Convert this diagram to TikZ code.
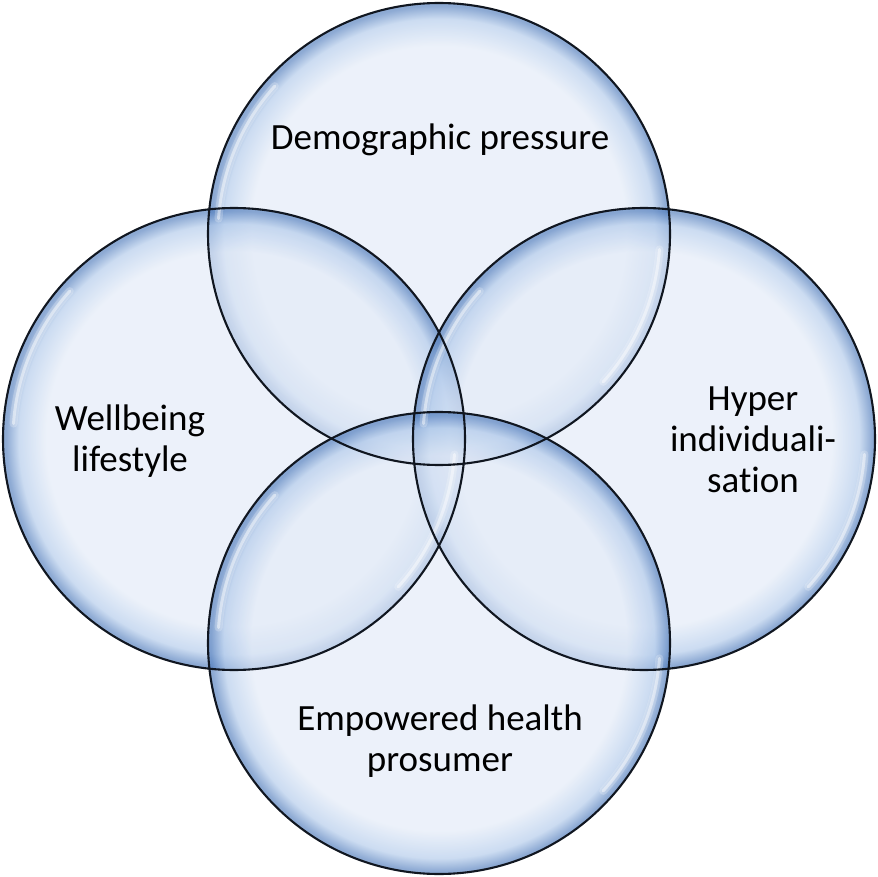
\documentclass[tikz,border=0pt]{standalone}
\usepackage{fontspec}
\setmainfont{Carlito}[Ligatures={NoCommon}]
\definecolor{bubinner}{RGB}{226,234,247}
\definecolor{bubmid}{RGB}{176,201,234}
\definecolor{bubouter}{RGB}{80,124,188}
\definecolor{bubline}{RGB}{16,22,32}
\pgfdeclareradialshading{bubble}{\pgfpoint{0bp}{0bp}}{%
  color(0bp)=(bubinner);
  color(20.3bp)=(bubinner);
  color(23.3bp)=(bubmid);
  color(24.7bp)=(bubouter);
  color(25bp)=(bubouter);
  color(50bp)=(bubouter)}
\tikzset{
  bubble/.style={circle, inner sep=0pt, minimum size=462pt, draw=none,
    shade, shading=bubble, fill opacity=0.65},
  rim/.style={draw=bubline, line width=2.1pt},
  glowsoft/.style={draw=white, line width=8pt, draw opacity=0.22, line cap=round},
  glowcore/.style={draw=white, line width=3pt, draw opacity=0.45, line cap=round},
  label/.style={align=center, text=black, font=\fontsize{37}{41}\selectfont, inner sep=0pt}
}
\begin{document}
\begin{tikzpicture}[x=1pt,y=-1pt]
\useasboundingbox (0,0) rectangle (878,877);
\node[bubble] (top) at (439,234) {};
\node[bubble] (left) at (234,439) {};
\node[bubble] (right) at (644,439) {};
\node[bubble] (bottom) at (439,643) {};
\foreach \c in {top,left,right,bottom}{
  \draw[glowsoft] (\c.center) ++(138:221pt) arc[start angle=138, end angle=176, radius=221pt];
  \draw[glowcore] (\c.center) ++(138:221pt) arc[start angle=138, end angle=176, radius=221pt];
  \draw[glowsoft] (\c.center) ++(-42:221pt) arc[start angle=-42, end angle=-4, radius=221pt];
  \draw[glowcore] (\c.center) ++(-42:221pt) arc[start angle=-42, end angle=-4, radius=221pt];
}
\foreach \c in {top,left,right,bottom}{
  \draw[rim] (\c.center) circle (231pt);
}
\node[label, anchor=base] (tdemo) at (440,150) {Demographic pressure};
\node[label, anchor=base] (twell) at (130,471) {Wellbeing\\lifestyle};
\node[label, anchor=base] (thyper) at (753,492) {Hyper\\individuali-\\sation};
\node[label, anchor=base] (tempo) at (440,771) {Empowered health\\prosumer};
\end{tikzpicture}
\end{document}
